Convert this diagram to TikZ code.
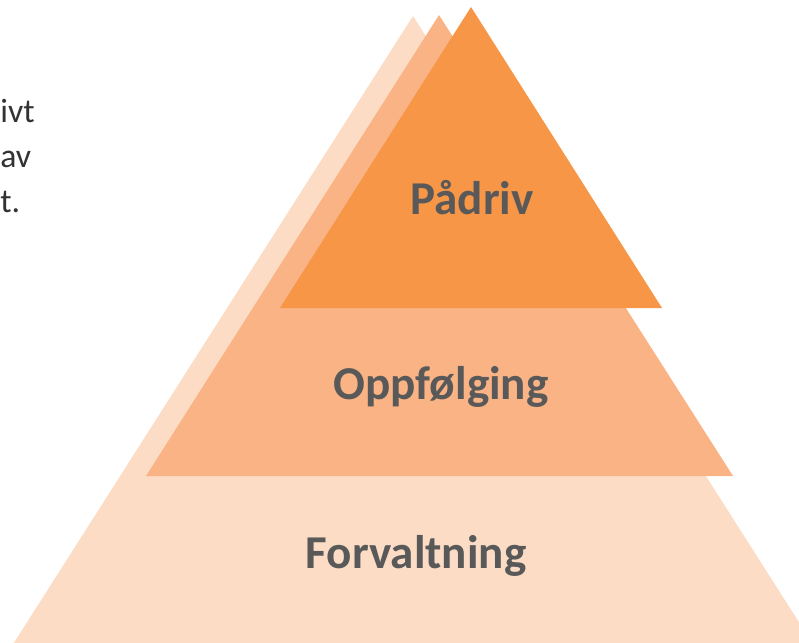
\documentclass[tikz,border=0pt]{standalone}
\usepackage{fontspec}
\setmainfont{Carlito}
\definecolor{peachlight}{HTML}{FCDCC4}
\definecolor{peachmid}{HTML}{F9B384}
\definecolor{peachdark}{HTML}{F79646}
\definecolor{labelgray}{HTML}{595959}
\definecolor{sidegray}{HTML}{333333}
\begin{document}
\begin{tikzpicture}[x=0.025cm, y=-0.025cm,
  level/.style={anchor=base, text=labelgray, font=\bfseries\fontsize{33.5}{40}\selectfont},
  side/.style={anchor=base west, inner sep=0pt, text=sidegray, font=\fontsize{24}{29}\selectfont}]
  \useasboundingbox (0,0) rectangle (799,642);
  \clip (0,0) rectangle (799,642);
  % three layers, back to front
  \fill[peachlight] (413,16) -- (823,660) -- (3,660) -- cycle;
  \fill[peachmid] (439,15) -- (733,476) -- (146,476) -- cycle;
  \fill[peachdark] (471,7) -- (662,308) -- (280,308) -- cycle;
  \node[level] (padriv) at (472,215) {Pådriv};
  \node[level] (oppfolging) at (441,399) {Oppfølging};
  \node[level] (forvaltning) at (416,568) {Forvaltning};
  \node[side] (linea) at (0,123) {ivt};
  \node[side] (lineb) at (0,168) {av};
  \node[side] (linec) at (0,213) {t.};
\end{tikzpicture}
\end{document}
